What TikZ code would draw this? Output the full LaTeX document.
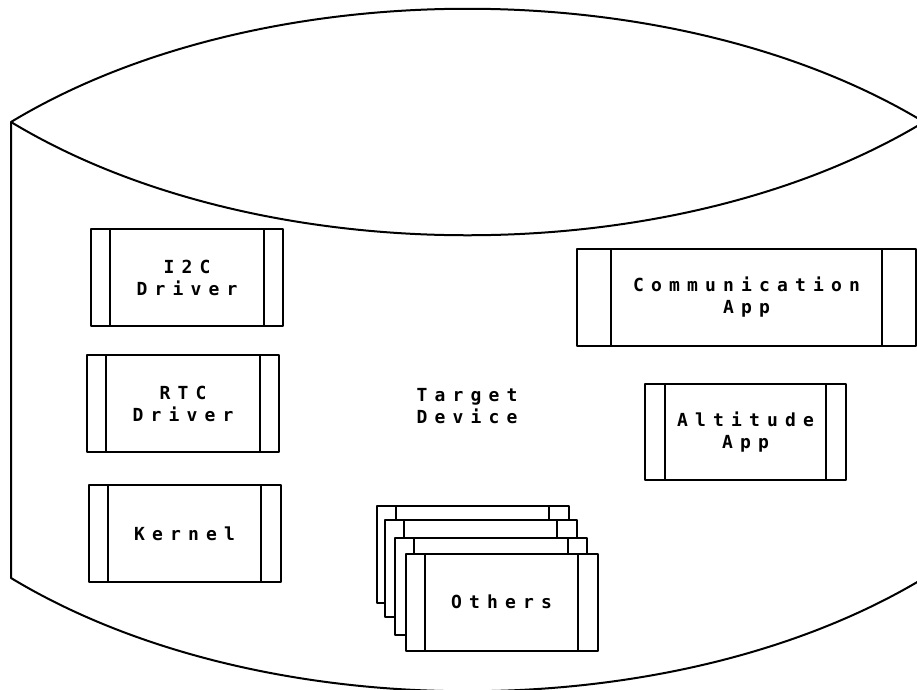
\documentclass[tikz,border=0pt]{standalone}
\usepackage{fontspec}
\newfontfamily\lblfont{DejaVu Sans Mono}[BoldFont={DejaVu Sans Mono Bold}]
\usetikzlibrary{calc}

% tracked label face: bold mono with a fixed, non-stretching word space
\newcommand\trackedlabels{%
  \lblfont\bfseries\fontsize{18}{22}\selectfont
  \fontdimen2\font=7.16pt \fontdimen3\font=0pt \fontdimen4\font=0pt}

\tikzset{
  stroke/.style={line width=2pt, line join=round},
  lbl/.style={align=center, inner sep=0pt, font=\trackedlabels},
  % process box: rectangle with a vertical bar 10% in from each side
  proc/.style={lbl, draw, stroke, fill=white,
    minimum width=192pt, minimum height=97pt,
    path picture={
      \draw[stroke]
        ($(path picture bounding box.north west)!0.1!(path picture bounding box.north east)$) --
        ($(path picture bounding box.south west)!0.1!(path picture bounding box.south east)$)
        ($(path picture bounding box.north west)!0.9!(path picture bounding box.north east)$) --
        ($(path picture bounding box.south west)!0.9!(path picture bounding box.south east)$);
    }},
}

\begin{document}
\begin{tikzpicture}[x=1pt, y=-1pt]
  \useasboundingbox (0,0) rectangle (917,689);
  \clip (0,0) rectangle (917,689);

  % device outline: curved lid, straight sides, curved base
  \draw[stroke] (11,578) -- (11,122)
    .. controls (261,-29) and (674,-29) .. (924,122)
    -- (924,578)
    .. controls (674,729) and (261,729) .. (11,578) -- cycle;
  \draw[stroke] (11,122) .. controls (261,273) and (674,273) .. (924,122);

  \node[lbl] (target) at (467,406) {T a r g e t\\D e v i c e};

  % drivers and kernel
  \node[proc] (i2c) at (187,277.5) {I 2 C\\D r i v e r};
  \node[proc] (rtc) at (183,403.5) {R T C\\D r i v e r};
  \node[proc] (kernel) at (184.5,533.5) {K e r n e l};

  % applications
  \node[proc, minimum width=339pt] (comm) at (746.5,297.5)
    {C o m m u n i c a t i o n\\A p p};
  \node[proc, minimum width=201pt, minimum height=96pt] (alt) at (745.5,432)
    {A l t i t u d e\\A p p};

  % stacked "others"
  \node[proc] (oth1) at (472.5,554) {};
  \node[proc] (oth2) at (480.5,568.5) {};
  \node[proc] (oth3) at (491,586.5) {};
  \node[proc] (oth4) at (501.5,602) {O t h e r s};
\end{tikzpicture}
\end{document}
